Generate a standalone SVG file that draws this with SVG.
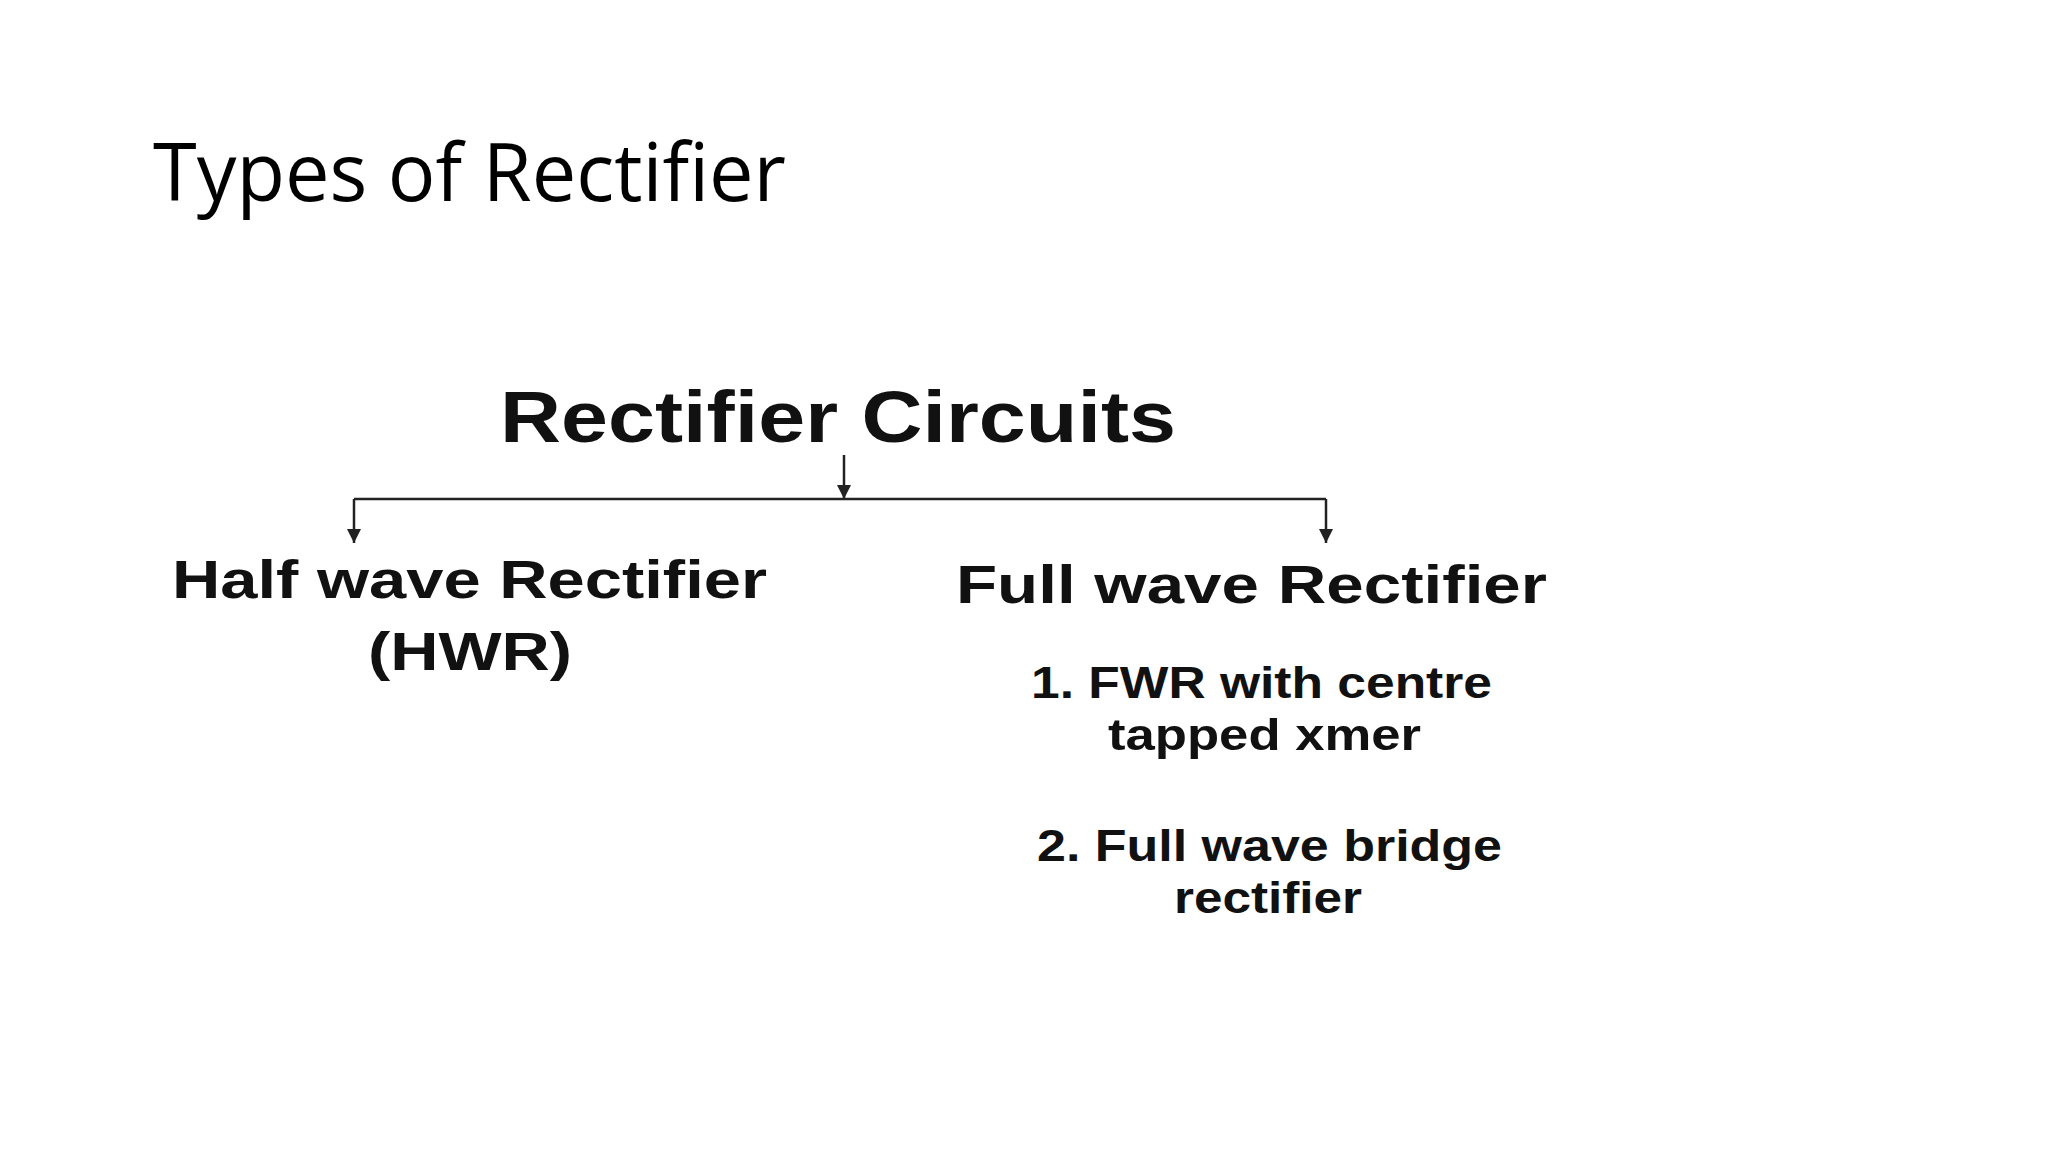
<svg xmlns="http://www.w3.org/2000/svg" width="2048" height="1152" viewBox="0 0 2048 1152">
<style>
.b{font-family:"Liberation Sans",Arial,sans-serif;font-weight:bold;fill:#111}
.c{stroke:#222;stroke-width:2.5;fill:none}
</style>
<defs><marker id="ah" viewBox="0 0 10 10" refX="10" refY="5" markerWidth="14" markerHeight="14" markerUnits="userSpaceOnUse" orient="auto"><path d="M0,0 L10,5 L0,10 z" fill="#222"/></marker></defs>
<rect width="2048" height="1152" fill="#fff"/>
<text x="153" y="201" font-family="'Open Sans',sans-serif" font-size="80" textLength="633" lengthAdjust="spacingAndGlyphs" fill="#000">Types of Rectifier</text>
<g id="root"><text class="b" x="500" y="442" font-size="72" textLength="676" lengthAdjust="spacingAndGlyphs">Rectifier Circuits</text></g>
<g id="connectors">
<line class="c" x1="844" y1="455" x2="844" y2="499" marker-end="url(#ah)"/>
<line class="c" x1="354" y1="499" x2="1326" y2="499"/>
<line class="c" x1="354" y1="499" x2="354" y2="543" marker-end="url(#ah)"/>
<line class="c" x1="1326" y1="499" x2="1326" y2="543" marker-end="url(#ah)"/>
</g>
<g id="hwr"><text class="b" x="172" y="598" font-size="54" textLength="595" lengthAdjust="spacingAndGlyphs">Half wave Rectifier</text><text class="b" x="368" y="670" font-size="54" textLength="204" lengthAdjust="spacingAndGlyphs">(HWR)</text></g>
<g id="fwr"><text class="b" x="956" y="603" font-size="54" textLength="591" lengthAdjust="spacingAndGlyphs">Full wave Rectifier</text>
<text class="b" x="1031" y="698" font-size="44" textLength="461" lengthAdjust="spacingAndGlyphs">1. FWR with centre</text>
<text class="b" x="1108" y="750" font-size="44" textLength="313" lengthAdjust="spacingAndGlyphs">tapped xmer</text>
<text class="b" x="1037" y="861" font-size="44" textLength="465" lengthAdjust="spacingAndGlyphs">2. Full wave bridge</text>
<text class="b" x="1174" y="913" font-size="44" textLength="188" lengthAdjust="spacingAndGlyphs">rectifier</text></g>
</svg>
